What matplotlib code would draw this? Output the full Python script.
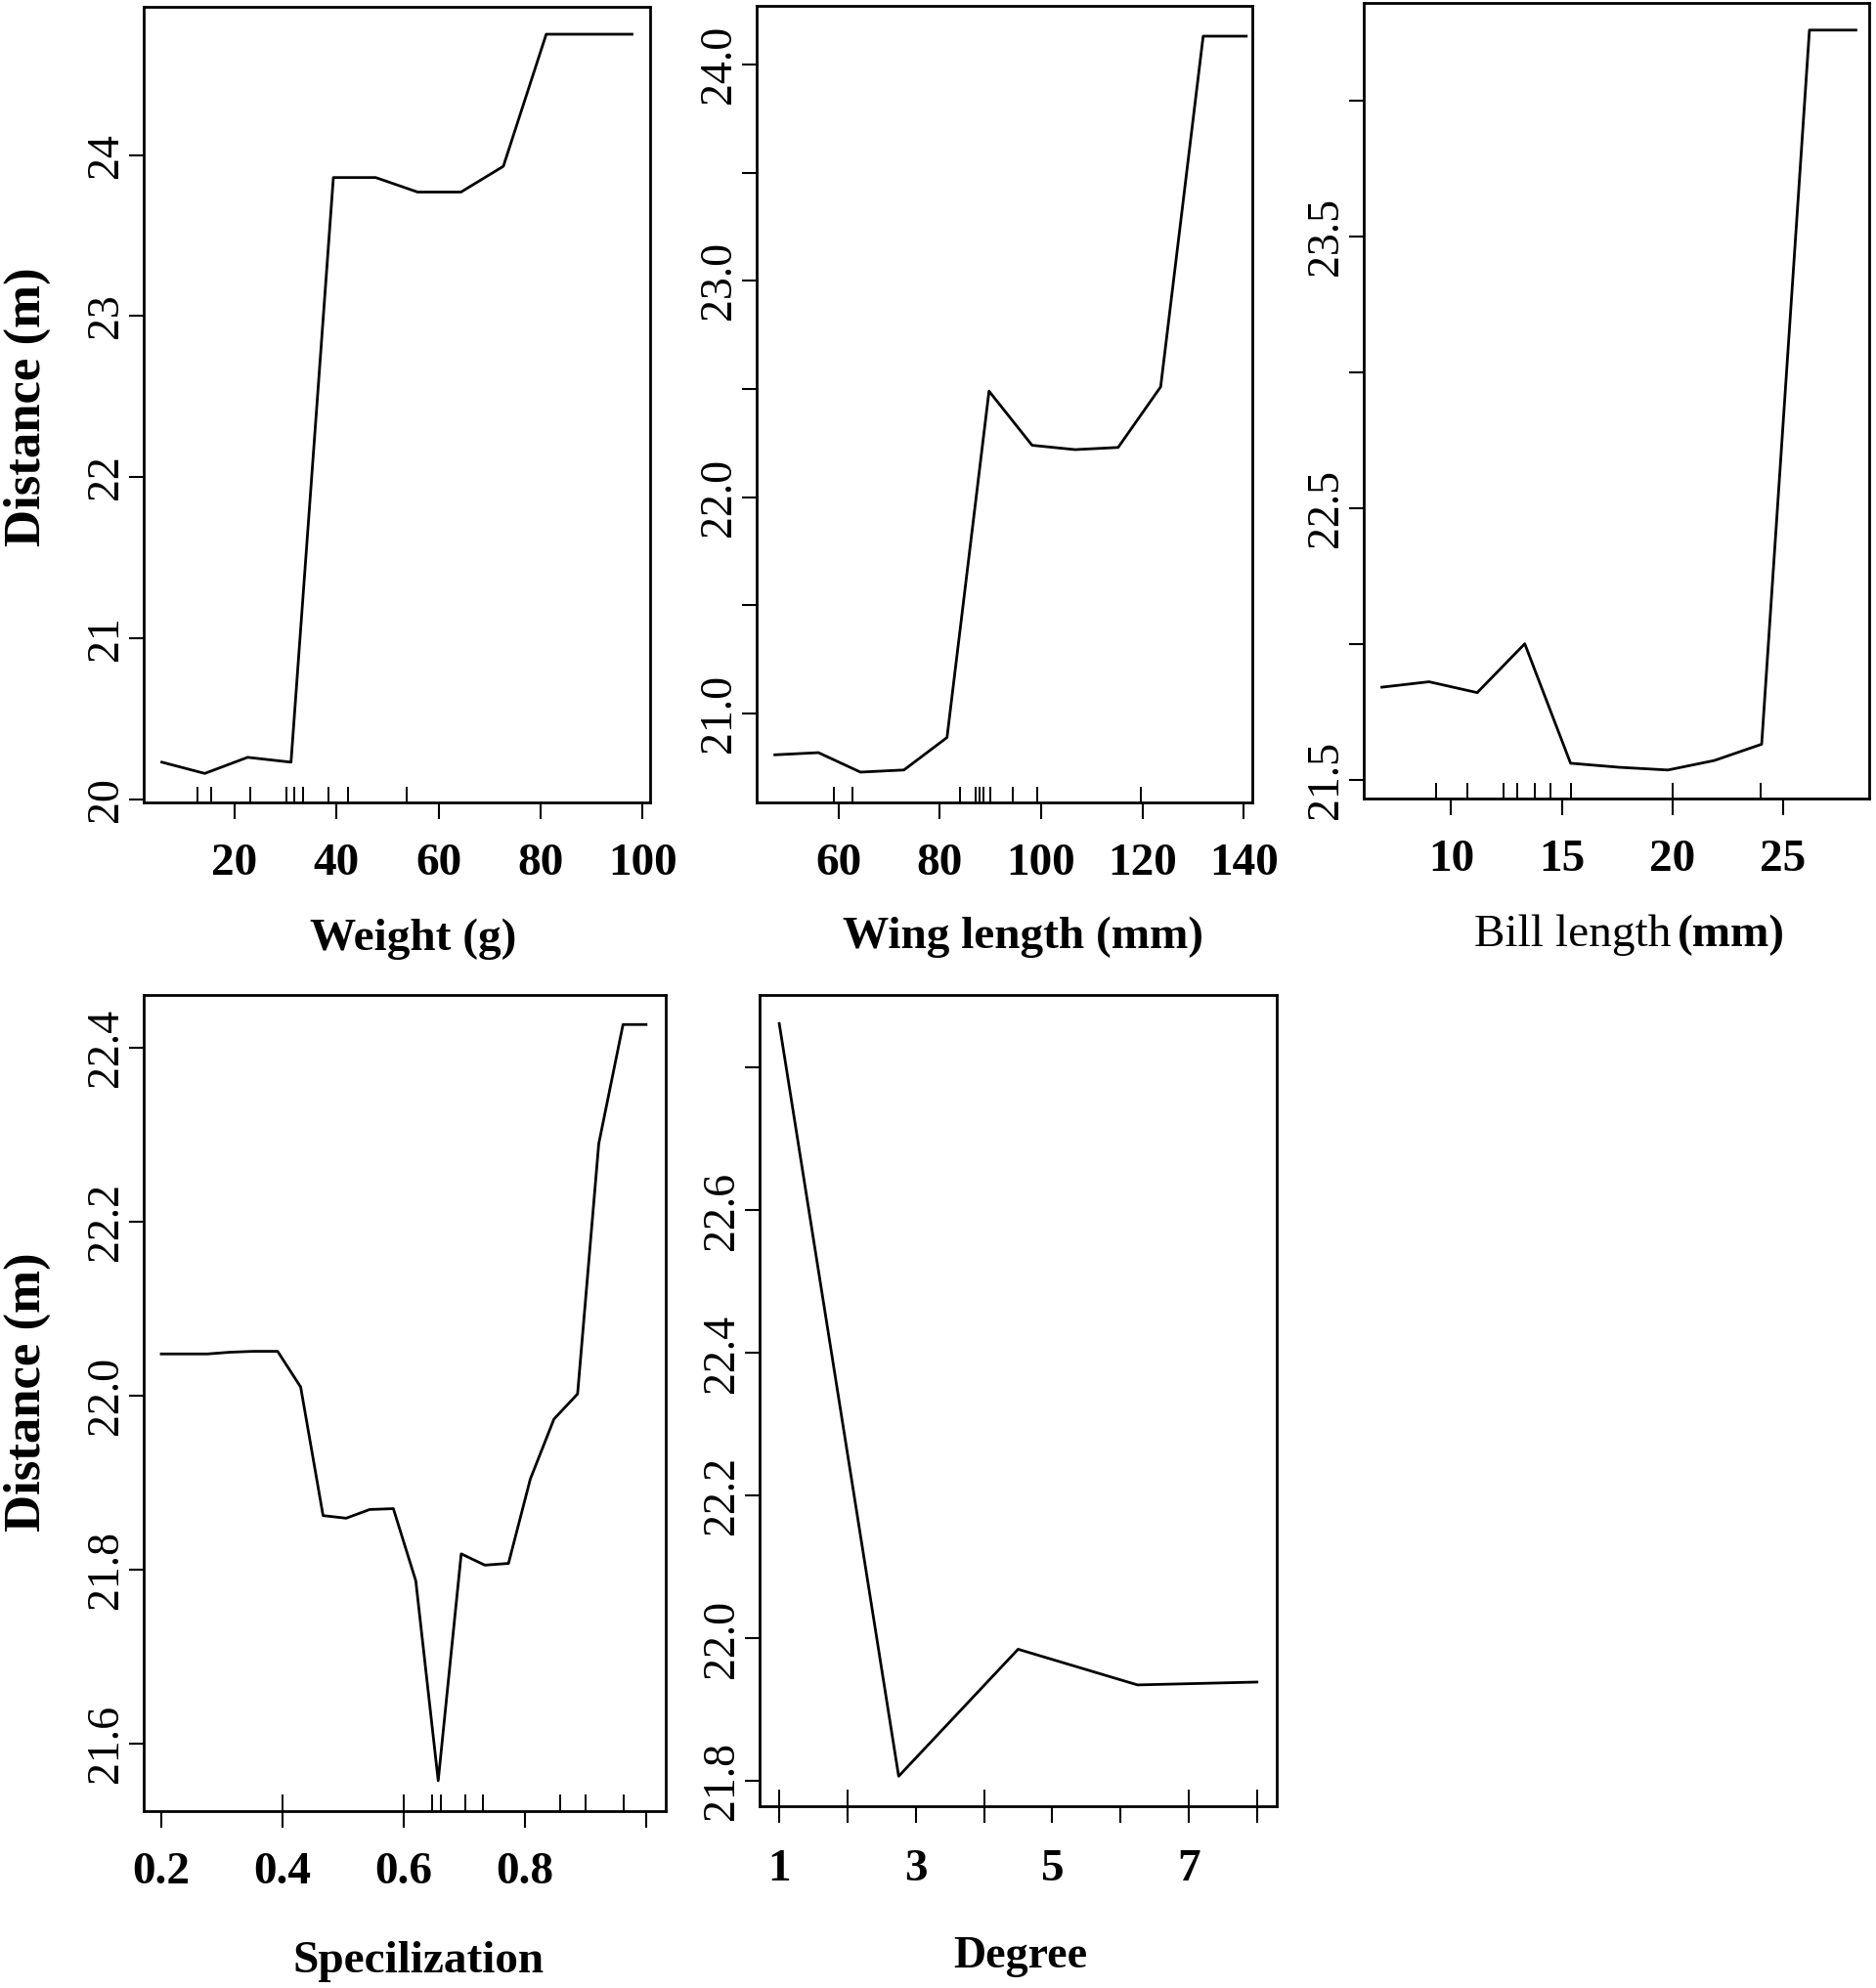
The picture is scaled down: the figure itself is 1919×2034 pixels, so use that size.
import matplotlib
matplotlib.use('Agg')
import matplotlib.pyplot as plt

plt.rcParams['font.family'] = ['Liberation Serif', 'DejaVu Serif']

# partial dependence values
weight_x = [5.8, 14.2, 22.6, 31.1, 39.4, 47.7, 55.9, 64.4, 72.7, 81.1, 89.5, 97.9]
weight_y = [20.23, 20.16, 20.26, 20.23, 23.86, 23.86, 23.77, 23.77, 23.93, 24.75, 24.75, 24.75]
weight_rug = [12.8, 15.5, 23.1, 30.2, 31.8, 33.4, 38.4, 42.2, 53.8]

wing_x = [47.4, 56.0, 64.3, 72.9, 81.4, 89.7, 98.2, 106.7, 115.2, 123.6, 132.0, 140.5]
wing_y = [20.81, 20.82, 20.73, 20.74, 20.89, 22.49, 22.24, 22.22, 22.23, 22.51, 24.13, 24.13]
wing_rug = [59.0, 62.8, 83.9, 87.1, 87.9, 88.6, 90.0, 94.4, 99.2, 119.7]

bill_x = [6.87, 9.0, 11.18, 13.33, 15.4, 17.6, 19.8, 21.9, 24.04, 26.2, 28.3]
bill_y = [21.84, 21.86, 21.82, 22.0, 21.56, 21.545, 21.535, 21.57, 21.63, 24.26, 24.26]
bill_rug = [9.3, 10.73, 12.37, 13.0, 13.8, 14.49, 15.4, 20.0, 24.0]

spec_x = [0.2, 0.238, 0.276, 0.314, 0.352, 0.392, 0.430, 0.467, 0.505, 0.544, 0.583,
          0.620, 0.657, 0.695, 0.734, 0.773, 0.809, 0.848, 0.887, 0.922, 0.962, 1.0]
spec_y = [22.048, 22.048, 22.048, 22.050, 22.051, 22.051, 22.010, 21.862, 21.859, 21.869, 21.870,
          21.787, 21.557, 21.818, 21.805, 21.807, 21.904, 21.973, 22.002, 22.29, 22.427, 22.427]
spec_rug = [0.4, 0.6, 0.647, 0.662, 0.702, 0.731, 0.859, 0.901, 0.963]

degree_x = [1.0, 2.75, 4.5, 6.25, 8.0]
degree_y = [22.862, 21.807, 21.985, 21.935, 21.939]
degree_rug = [1, 2, 4, 7, 8]

W, H = 1919, 2034
fig = plt.figure(figsize=(W / 100, H / 100), dpi=100)


def panel(box, x, y, rug, xlim, ylim, xticks, xlabels, yticks, ylabels, xpad=18):
    left, top, right, bottom = box
    ax = fig.add_axes([left / W, 1 - bottom / H, (right - left) / W, (bottom - top) / H])
    ax.plot(x, y, color='black', lw=2)
    ax.vlines(rug, 0, 0.02, transform=ax.get_xaxis_transform(), color='black', lw=1.4)
    ax.set_xlim(xlim)
    ax.set_ylim(ylim)
    ax.set_xticks(xticks)
    ax.set_xticklabels(xlabels, fontsize=34, fontweight='bold')
    ax.set_yticks(yticks)
    ax.set_yticklabels(ylabels, fontsize=33, rotation=90, va='center')
    ax.tick_params(axis='x', length=12, width=1.5, pad=xpad)
    ax.tick_params(axis='y', length=11, width=1.5, pad=1)
    for s in ax.spines.values():
        s.set_linewidth(2)
    return ax


panel((147, 7, 665, 821), weight_x, weight_y, weight_rug, (2.24, 101.45), (19.98, 24.92),
      [20, 40, 60, 80, 100], ['20', '40', '60', '80', '100'],
      [20, 21, 22, 23, 24], ['20', '21', '22', '23', '24'])

panel((774, 6, 1281, 821), wing_x, wing_y, wing_rug, (43.8, 141.7), (20.59, 24.27),
      [60, 80, 100, 120, 140], ['60', '80', '100', '120', '140'],
      [21.0, 21.5, 22.0, 22.5, 23.0, 23.5, 24.0], ['21.0', '', '22.0', '', '23.0', '', '24.0'])

panel((1395, 3, 1912, 817), bill_x, bill_y, bill_rug, (6.05, 28.9), (21.43, 24.36),
      [10, 15, 20, 25], ['10', '15', '20', '25'],
      [21.5, 22.0, 22.5, 23.0, 23.5, 24.0], ['21.5', '', '22.5', '', '23.5', ''])

panel((147, 1018, 681, 1853), spec_x, spec_y, spec_rug, (0.171, 1.0325), (21.522, 22.461),
      [0.2, 0.4, 0.6, 0.8, 1.0], ['0.2', '0.4', '0.6', '0.8', ''],
      [21.6, 21.8, 22.0, 22.2, 22.4], ['21.6', '21.8', '22.0', '22.2', '22.4'])

panel((777, 1018, 1306, 1848), degree_x, degree_y, degree_rug, (0.712, 8.29), (21.765, 22.902),
      [1, 2, 3, 4, 5, 6, 7, 8], ['1', '', '3', '', '5', '', '7', ''],
      [21.8, 22.0, 22.2, 22.4, 22.6, 22.8], ['21.8', '22.0', '22.2', '22.4', '22.6', ''], xpad=20)

# axis titles
fig.text(28 / W, 1 - 416 / H, 'Distance (m)', rotation=90, ha='center', va='center',
         fontsize=38, fontweight='bold')
fig.text(28 / W, 1 - 1424 / H, 'Distance (m)', rotation=90, ha='center', va='center',
         fontsize=38, fontweight='bold')

fig.text(423 / W, 1 - 972 / H, 'Weight (g)', ha='center', va='baseline', fontsize=34, fontweight='bold')
fig.text(1046 / W, 1 - 970 / H, 'Wing length (mm)', ha='center', va='baseline', fontsize=34, fontweight='bold')
fig.text(1709 / W, 1 - 968 / H, 'Bill length', ha='right', va='baseline', fontsize=34)
fig.text(1716 / W, 1 - 968 / H, '(mm)', ha='left', va='baseline', fontsize=34, fontweight='bold')
fig.text(428 / W, 1 - 2018 / H, 'Specilization', ha='center', va='baseline', fontsize=34, fontweight='bold')
fig.text(1044 / W, 1 - 2013 / H, 'Degree', ha='center', va='baseline', fontsize=33, fontweight='bold')

fig.savefig('out.png', dpi=100)
